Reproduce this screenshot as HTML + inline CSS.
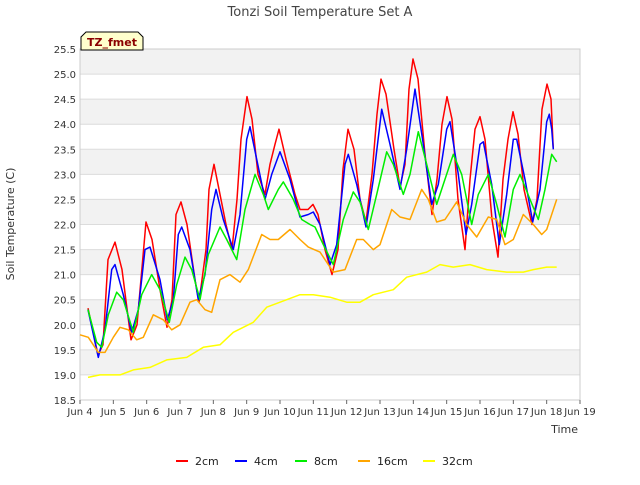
<!DOCTYPE html>
<html><head><meta charset="utf-8"><style>
body{margin:0;background:#fff;font-family:"Liberation Sans","DejaVu Sans",sans-serif}
svg text{font-family:"DejaVu Sans","Liberation Sans",sans-serif}
</style></head><body>
<svg id="c" width="640" height="480" xmlns="http://www.w3.org/2000/svg">
<text x="320" y="16" text-anchor="middle" font-size="13" fill="#444">Tonzi Soil Temperature Set A</text>
<g id="plot"></g>
<text x="14" y="224" transform="rotate(-90 14 224)" text-anchor="middle" font-size="11" fill="#333">Soil Temperature (C)</text>
<text x="578" y="433" text-anchor="end" font-size="11" fill="#333">Time</text>
<g>
<path d="M81,50 L81,37 L86,32 L138,32 L143,37 L143,50 Z" fill="#ffffcc" stroke="#000" stroke-width="1"/>
<text x="87" y="46" font-size="11" font-weight="bold" fill="#8b0000">TZ_fmet</text>
</g>
<g id="legend"></g>
</svg>
<script>
const yTicks=[18.5,19.0,19.5,20.0,20.5,21.0,21.5,22.0,22.5,23.0,23.5,24.0,24.5,25.0,25.5];
const xTickLabels=["Jun 4","Jun 5","Jun 6","Jun 7","Jun 8","Jun 9","Jun 10","Jun 11","Jun 12","Jun 13","Jun 14","Jun 15","Jun 16","Jun 17","Jun 18","Jun 19"];
const seriesNames=["2cm","4cm","8cm","16cm","32cm"];
const seriesColors=["#ff0000","#0000ff","#00ee00","#ffa500","#ffff00"];
const s2cm=[[0.24,20.33],[0.54,19.4],[0.69,19.6],[0.84,21.3],[1.05,21.65],[1.26,21.1],[1.53,19.7],[1.71,20.0],[1.98,22.05],[2.16,21.7],[2.4,20.7],[2.61,19.95],[2.76,20.5],[2.88,22.2],[3.03,22.45],[3.21,22.0],[3.45,20.9],[3.57,20.45],[3.78,21.5],[3.87,22.7],[4.02,23.2],[4.2,22.6],[4.38,22.0],[4.56,21.5],[4.71,22.5],[4.83,23.7],[5.01,24.55],[5.16,24.1],[5.34,23.0],[5.55,22.6],[5.7,23.2],[5.85,23.6],[5.97,23.9],[6.18,23.3],[6.45,22.6],[6.6,22.3],[6.84,22.3],[6.99,22.4],[7.14,22.2],[7.35,21.5],[7.56,21.0],[7.74,21.5],[7.89,23.1],[8.04,23.9],[8.22,23.5],[8.4,22.5],[8.58,22.05],[8.76,23.0],[8.91,24.2],[9.03,24.9],[9.18,24.6],[9.42,23.5],[9.6,22.75],[9.75,23.2],[9.87,24.7],[9.99,25.3],[10.14,24.9],[10.35,23.4],[10.56,22.2],[10.71,22.9],[10.86,24.0],[11.01,24.55],[11.16,24.1],[11.34,22.5],[11.55,21.5],[11.7,22.9],[11.85,23.9],[12.0,24.15],[12.15,23.7],[12.36,22.1],[12.54,21.35],[12.69,22.9],[12.84,23.7],[12.99,24.25],[13.14,23.8],[13.32,22.7],[13.56,22.0],[13.71,22.5],[13.86,24.3],[14.01,24.8],[14.13,24.5],[14.2,23.5]];
const s4cm=[[0.24,20.3],[0.55,19.35],[0.75,19.9],[0.95,21.1],[1.05,21.2],[1.3,20.6],[1.55,19.85],[1.75,20.3],[1.95,21.5],[2.1,21.55],[2.4,20.9],[2.62,20.1],[2.8,20.5],[2.95,21.8],[3.05,21.95],[3.3,21.5],[3.55,20.5],[3.75,21.0],[3.95,22.3],[4.08,22.7],[4.3,22.1],[4.6,21.5],[4.8,22.2],[5.0,23.7],[5.1,23.95],[5.3,23.3],[5.55,22.5],[5.75,23.0],[6.0,23.45],[6.3,22.9],[6.6,22.15],[6.85,22.2],[7.0,22.25],[7.2,22.0],[7.5,21.2],[7.7,21.6],[7.95,23.2],[8.05,23.4],[8.3,22.8],[8.58,21.95],[8.8,22.9],[9.05,24.3],[9.3,23.6],[9.6,22.7],[9.8,23.5],[10.05,24.7],[10.3,23.6],[10.55,22.4],[10.75,22.8],[11.0,23.9],[11.1,24.05],[11.35,23.0],[11.58,21.8],[11.75,22.4],[12.0,23.6],[12.1,23.65],[12.35,22.8],[12.58,21.6],[12.8,22.6],[13.0,23.7],[13.1,23.7],[13.35,22.9],[13.58,22.05],[13.8,22.7],[14.0,24.05],[14.08,24.2],[14.15,23.9],[14.2,23.5]];
const s8cm=[[0.24,20.3],[0.5,19.65],[0.65,19.55],[0.85,20.2],[1.1,20.65],[1.3,20.5],[1.6,19.85],[1.85,20.6],[2.15,21.0],[2.4,20.7],[2.68,20.05],[2.9,20.8],[3.15,21.35],[3.35,21.1],[3.6,20.5],[3.85,21.4],[4.2,21.95],[4.4,21.7],[4.7,21.3],[4.95,22.3],[5.25,23.0],[5.5,22.6],[5.65,22.3],[5.95,22.7],[6.1,22.85],[6.4,22.5],[6.65,22.1],[6.9,22.0],[7.05,21.95],[7.3,21.6],[7.6,21.2],[7.9,22.1],[8.2,22.65],[8.4,22.45],[8.65,21.9],[8.9,22.6],[9.2,23.45],[9.4,23.2],[9.7,22.6],[9.9,23.0],[10.15,23.85],[10.4,23.2],[10.7,22.4],[10.9,22.8],[11.2,23.4],[11.45,23.0],[11.75,22.0],[11.95,22.6],[12.25,23.0],[12.5,22.4],[12.75,21.75],[13.0,22.7],[13.2,23.0],[13.5,22.5],[13.75,22.1],[13.95,22.7],[14.15,23.4],[14.3,23.25]];
const s16cm=[[0.0,19.8],[0.25,19.75],[0.55,19.45],[0.75,19.45],[1.0,19.75],[1.2,19.95],[1.45,19.9],[1.7,19.7],[1.9,19.75],[2.2,20.2],[2.5,20.1],[2.75,19.9],[3.0,20.0],[3.3,20.45],[3.5,20.5],[3.75,20.3],[3.95,20.25],[4.2,20.9],[4.5,21.0],[4.8,20.85],[5.05,21.1],[5.45,21.8],[5.7,21.7],[5.95,21.7],[6.3,21.9],[6.6,21.7],[6.85,21.55],[7.2,21.45],[7.6,21.05],[7.95,21.1],[8.3,21.7],[8.5,21.7],[8.8,21.5],[9.0,21.6],[9.35,22.3],[9.6,22.15],[9.9,22.1],[10.25,22.7],[10.45,22.5],[10.7,22.05],[10.95,22.1],[11.3,22.45],[11.6,22.0],[11.9,21.75],[12.25,22.15],[12.5,22.1],[12.75,21.6],[13.0,21.7],[13.3,22.2],[13.6,22.0],[13.85,21.8],[14.0,21.9],[14.3,22.5]];
const s32cm=[[0.24,18.95],[0.6,19.0],[1.2,19.0],[1.6,19.1],[2.1,19.15],[2.6,19.3],[3.2,19.35],[3.7,19.55],[4.2,19.6],[4.6,19.85],[5.2,20.05],[5.6,20.35],[6.2,20.5],[6.6,20.6],[7.0,20.6],[7.5,20.55],[8.0,20.45],[8.4,20.45],[8.8,20.6],[9.4,20.7],[9.8,20.95],[10.4,21.05],[10.8,21.2],[11.2,21.15],[11.7,21.2],[12.2,21.1],[12.8,21.05],[13.3,21.05],[13.6,21.1],[14.0,21.15],[14.3,21.15]];
const allSeries=[s2cm,s4cm,s8cm,s16cm,s32cm];

const L=80,R=580,T=49,B=400,ymin=18.5,ymax=25.5,xmin=0,xmax=15;
const xs=d=>L+(d-xmin)/(xmax-xmin)*(R-L);
const ys=v=>B-(v-ymin)/(ymax-ymin)*(B-T);
const NS="http://www.w3.org/2000/svg";
const plot=document.getElementById('plot');
function mk(tag,attrs,parent){const e=document.createElementNS(NS,tag);for(const k in attrs)e.setAttribute(k,attrs[k]);parent.appendChild(e);return e;}
// bands
for(let i=0;i<yTicks.length-1;i++){
  if(i%2===1){
    const r=mk('rect',{x:L,y:ys(yTicks[i+1]),width:R-L,height:ys(yTicks[i])-ys(yTicks[i+1]),fill:'#f2f2f2'},plot);
    
    
  }
}
yTicks.forEach(v=>{
  const ln=mk('line',{x1:L,x2:R,y1:ys(v),y2:ys(v),stroke:'#dcdcdc','stroke-width':1},plot);
  
  
  const t=mk('text',{x:L-4,y:ys(v)+4,'text-anchor':'end','font-size':10,fill:'#333'},plot);
  t.textContent=v.toFixed(1);
  
  
});
const fr=mk('rect',{x:L,y:T,width:R-L,height:B-T,fill:'none',stroke:'#ccc'},plot);


xTickLabels.forEach((lab,i)=>{
  const x=xs(i);
  const tk=mk('line',{x1:x,x2:x,y1:B,y2:B+4,stroke:'#666'},plot);
  
  
  const t=mk('text',{x:x,y:B+15,'text-anchor':'middle','font-size':10,fill:'#333'},plot);
  t.textContent=lab;
  
  
});
allSeries.forEach((s,i)=>{
  const p=mk('polyline',{points:s.map(d=>xs(d[0]).toFixed(1)+','+ys(d[1]).toFixed(1)).join(' '),fill:'none',stroke:seriesColors[i],'stroke-width':1.5,'stroke-linejoin':'round'},plot);
  
  
});
const leg=document.getElementById('legend');
const legX=[176,235,295,358,423];
seriesNames.forEach((n,i)=>{
  const g=mk('g',{},leg);
  
  
  mk('line',{x1:legX[i],x2:legX[i]+12,y1:461,y2:461,stroke:seriesColors[i],'stroke-width':2},g);
  const t=mk('text',{x:legX[i]+19,y:465,'font-size':11,fill:'#222'},g);
  t.textContent=n;
});
</script>
</body></html>
